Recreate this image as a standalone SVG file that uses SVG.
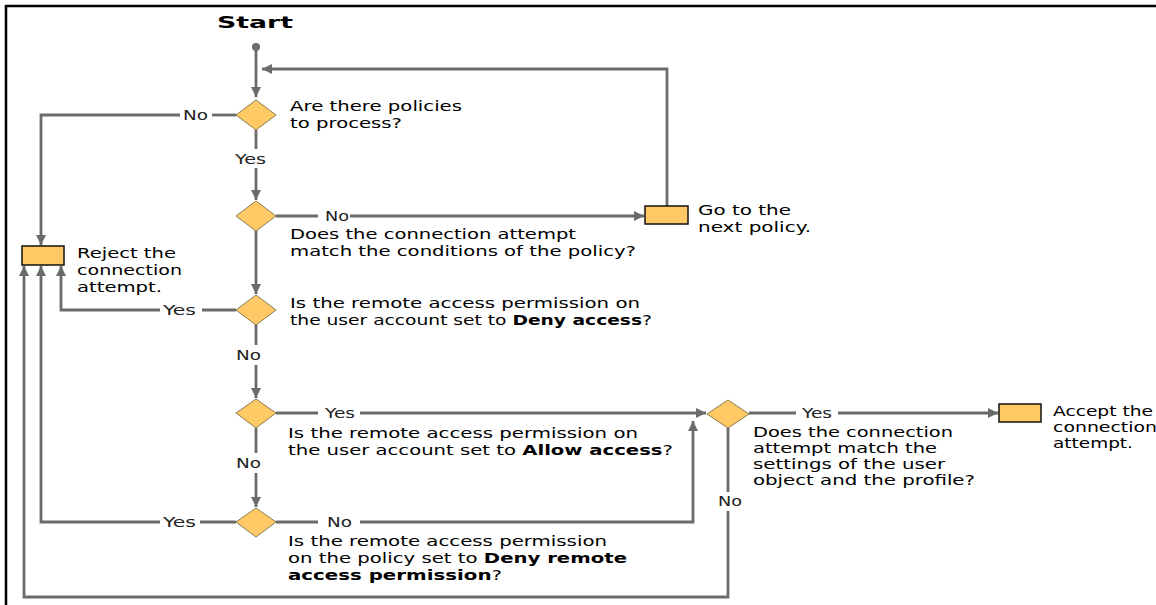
<svg xmlns="http://www.w3.org/2000/svg" width="1156" height="605" viewBox="0 0 1156 605">
<defs>
<marker id="ah" markerUnits="userSpaceOnUse" markerWidth="10" markerHeight="10" viewBox="0 0 10 10" refX="10" refY="5" orient="auto">
<path d="M0,0 L10,5 L0,10 z" fill="#6b6b6b"/>
</marker>
<style>
.c{fill:none;stroke:#6b6b6b;stroke-width:2.8}
.a{marker-end:url(#ah)}
.d{fill:#ffc966;stroke:#8c7a4a;stroke-width:1}
.r{fill:#ffc966;stroke:#111;stroke-width:1.5}
.t{font-family:"DejaVu Sans",Verdana,sans-serif;font-size:13.5px;fill:#000}
.l{font-family:"DejaVu Sans",Verdana,sans-serif;font-size:13.5px;fill:#222}
.b{font-weight:bold}
</style>
</defs>
<rect width="1156" height="605" fill="#fff"/>
<path d="M6 605 V6 H1156" fill="none" stroke="#000" stroke-width="2.5"/>

<g id="connectors">
<circle cx="256" cy="47" r="4" fill="#6b6b6b"/>
<path class="c a" d="M256 47 V97"/>
<path class="c a" d="M667 206 V69 H262"/>
<path class="c" d="M236 115 H212"/>
<path class="c a" d="M180 115 H41 V245"/>
<path class="c" d="M256 130 V149"/>
<path class="c a" d="M256 168 V200"/>
<path class="c" d="M276 216 H318"/>
<path class="c a" d="M350 216 H644"/>
<path class="c a" d="M256 230 V294"/>
<path class="c" d="M236 310 H202"/>
<path class="c a" d="M160 310 H61 V266"/>
<path class="c" d="M256 325 V345"/>
<path class="c a" d="M256 365 V398"/>
<path class="c" d="M276 413 H318"/>
<path class="c a" d="M360 413 H706"/>
<path class="c" d="M256 428 V453"/>
<path class="c a" d="M256 473 V507"/>
<path class="c" d="M236 522 H200"/>
<path class="c a" d="M160 522 H41 V266"/>
<path class="c" d="M276 522 H318"/>
<path class="c a" d="M360 522 H693 V421"/>
<path class="c" d="M749 413 H796"/>
<path class="c a" d="M838 413 H998"/>
<path class="c" d="M728 428 V492"/>
<path class="c a" d="M728 511 V597 H24 V266"/>
<text class="l" x="183" y="120" textLength="25" lengthAdjust="spacingAndGlyphs">No</text>
<text class="l" x="235" y="164" textLength="31" lengthAdjust="spacingAndGlyphs">Yes</text>
<text class="l" x="325" y="221" textLength="24" lengthAdjust="spacingAndGlyphs">No</text>
<text class="l" x="163" y="315" textLength="33" lengthAdjust="spacingAndGlyphs">Yes</text>
<text class="l" x="236" y="360" textLength="25" lengthAdjust="spacingAndGlyphs">No</text>
<text class="l" x="325" y="418" textLength="30" lengthAdjust="spacingAndGlyphs">Yes</text>
<text class="l" x="236" y="468" textLength="25" lengthAdjust="spacingAndGlyphs">No</text>
<text class="l" x="163" y="527" textLength="33" lengthAdjust="spacingAndGlyphs">Yes</text>
<text class="l" x="327" y="527" textLength="25" lengthAdjust="spacingAndGlyphs">No</text>
<text class="l" x="802" y="418" textLength="30" lengthAdjust="spacingAndGlyphs">Yes</text>
<text class="l" x="718" y="506" textLength="24" lengthAdjust="spacingAndGlyphs">No</text>
</g>

<g id="start">
<text class="t b" x="217" y="28" style="font-size:16.5px" textLength="76" lengthAdjust="spacingAndGlyphs">Start</text>
</g>

<g id="d1">
<polygon class="d" points="256,100 276,115 256,130 236,115"/>
<text class="t" x="290" y="111" textLength="172" lengthAdjust="spacingAndGlyphs">Are there policies</text>
<text class="t" x="290" y="128" textLength="112" lengthAdjust="spacingAndGlyphs">to process?</text>
</g>

<g id="d2">
<polygon class="d" points="256,201 276,216 256,231 236,216"/>
<text class="t" x="290" y="239" textLength="286" lengthAdjust="spacingAndGlyphs">Does the connection attempt</text>
<text class="t" x="290" y="256" textLength="346" lengthAdjust="spacingAndGlyphs">match the conditions of the policy?</text>
</g>

<g id="next">
<rect class="r" x="645" y="206" width="43" height="18"/>
<text class="t" x="698" y="215" textLength="93" lengthAdjust="spacingAndGlyphs">Go to the</text>
<text class="t" x="698" y="232" textLength="113" lengthAdjust="spacingAndGlyphs">next policy.</text>
</g>

<g id="reject">
<rect class="r" x="22" y="246" width="42" height="19"/>
<text class="t" x="77" y="258" textLength="99" lengthAdjust="spacingAndGlyphs">Reject the</text>
<text class="t" x="77" y="275" textLength="105" lengthAdjust="spacingAndGlyphs">connection</text>
<text class="t" x="77" y="292" textLength="85" lengthAdjust="spacingAndGlyphs">attempt.</text>
</g>

<g id="d3">
<polygon class="d" points="256,295 276,310 256,325 236,310"/>
<text class="t" x="290" y="308" textLength="350" lengthAdjust="spacingAndGlyphs">Is the remote access permission on</text>
<text class="t" x="290" y="325" textLength="362" lengthAdjust="spacingAndGlyphs">the user account set to <tspan class="b">Deny access</tspan>?</text>
</g>

<g id="d4">
<polygon class="d" points="256,399 276,413 256,428 236,413"/>
<text class="t" x="288" y="438" textLength="350" lengthAdjust="spacingAndGlyphs">Is the remote access permission on</text>
<text class="t" x="288" y="455" textLength="385" lengthAdjust="spacingAndGlyphs">the user account set to <tspan class="b">Allow access</tspan>?</text>
</g>

<g id="d6">
<polygon class="d" points="256,508 276,522 256,537 236,522"/>
<text class="t" x="288" y="546" textLength="319" lengthAdjust="spacingAndGlyphs">Is the remote access permission</text>
<text class="t" x="288" y="563" textLength="339" lengthAdjust="spacingAndGlyphs">on the policy set to <tspan class="b">Deny remote</tspan></text>
<text class="t" x="288" y="580" textLength="214" lengthAdjust="spacingAndGlyphs"><tspan class="b">access permission</tspan>?</text>
</g>

<g id="d5">
<polygon class="d" points="728,400 749,414 728,428 707,414"/>
<text class="t" x="753" y="437" textLength="200" lengthAdjust="spacingAndGlyphs">Does the connection</text>
<text class="t" x="753" y="453" textLength="184" lengthAdjust="spacingAndGlyphs">attempt match the</text>
<text class="t" x="753" y="469" textLength="192" lengthAdjust="spacingAndGlyphs">settings of the user</text>
<text class="t" x="753" y="485" textLength="222" lengthAdjust="spacingAndGlyphs">object and the profile?</text>
</g>

<g id="accept">
<rect class="r" x="999" y="404" width="42" height="18"/>
<text class="t" x="1053" y="416" textLength="100" lengthAdjust="spacingAndGlyphs">Accept the</text>
<text class="t" x="1053" y="432" textLength="104" lengthAdjust="spacingAndGlyphs">connection</text>
<text class="t" x="1053" y="448" textLength="80" lengthAdjust="spacingAndGlyphs">attempt.</text>
</g>
</svg>
